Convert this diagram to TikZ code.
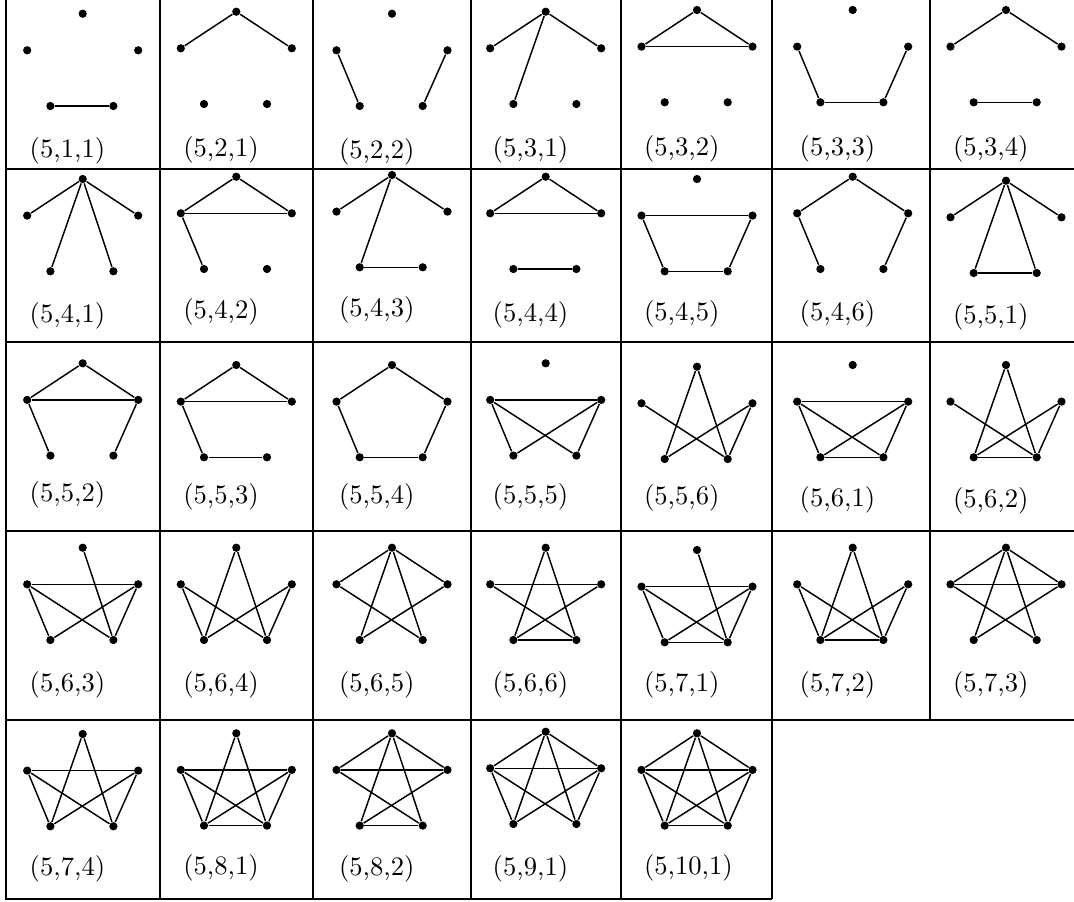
\documentclass[tikz,border=0pt]{standalone}
\usetikzlibrary{calc}
\tikzset{
  dot/.style={circle,fill=black,inner sep=0pt,minimum size=3.1pt},
  edge/.style={line width=0.55pt},
  rule/.style={line width=0.6pt},
  lab/.style={anchor=west,inner sep=0pt},
}
\newcommand{\gcell}[6]{%
  \node[dot] (#1T) at (#2,#3) {};
  \node[dot] (#1L) at ({#2-55.5},{#3+36.6}) {};
  \node[dot] (#1R) at ({#2+55.5},{#3+36.6}) {};
  \node[dot] (#1A) at ({#2-32.3},{#3+92.3}) {};
  \node[dot] (#1B) at ({#2+30.7},{#3+92.3}) {};
  \node[lab] (#1N) at ({#2-53.5},#4) {#5};
  \foreach \u/\v in {#6} {\draw[edge] (#1\u) -- (#1\v);}
}
\begin{document}
\begin{tikzpicture}[x=0.3757pt,y=-0.3757pt]
\useasboundingbox (0,0) rectangle (1074,902);
% table rules
\draw[rule] (6,0) -- (6,899) -- (772,899);
\foreach \xx in {160,313,471,621,772} \draw[rule] (\xx,0) -- (\xx,899);
\draw[rule] (930,0) -- (930,720);
\foreach \yy in {169,342,531,720} \draw[rule] (6,\yy) -- (1074,\yy);
% row 1
\gcell{a}{82.7}{13.7}{151}{(5,1,1)}{A/B}
\gcell{b}{236.3}{11.7}{149.5}{(5,2,1)}{T/L,T/R}
\gcell{c}{392}{13.7}{151.7}{(5,2,2)}{L/A,R/B}
\gcell{d}{545.7}{11.7}{149.5}{(5,3,1)}{T/L,T/R,T/A}
\gcell{e}{697}{10}{149}{(5,3,2)}{T/L,T/R,L/R}
\gcell{f}{852.7}{10}{149}{(5,3,3)}{L/A,A/B,B/R}
\gcell{g}{1006}{10}{149}{(5,3,4)}{T/L,T/R,A/B}
% row 2
\gcell{h}{82.7}{179}{315.7}{(5,4,1)}{T/L,T/R,T/A,T/B}
\gcell{i}{236.3}{176.7}{312.3}{(5,4,2)}{T/L,T/R,L/R,L/A}
\gcell{j}{392}{175}{310}{(5,4,3)}{T/L,T/R,T/A,A/B}
\gcell{k}{545.7}{176.7}{315}{(5,4,4)}{T/L,T/R,L/R,A/B}
\gcell{l}{697}{179}{314}{(5,4,5)}{L/R,L/A,A/B,B/R}
\gcell{m}{852.7}{176.7}{314}{(5,4,6)}{T/L,T/R,L/A,R/B}
\gcell{n}{1006}{180.7}{317}{(5,5,1)}{T/L,T/R,T/A,T/B,A/B}
% row 3
\gcell{o}{82.7}{363.3}{495}{(5,5,2)}{T/L,T/R,L/R,L/A,R/B}
\gcell{p}{236.3}{365}{496.7}{(5,5,3)}{T/L,T/R,L/R,L/A,A/B}
\gcell{q}{392}{365}{496.7}{(5,5,4)}{T/L,T/R,L/A,A/B,B/R}
\gcell{r}{545.7}{363.3}{497}{(5,5,5)}{L/R,L/A,L/B,R/A,R/B}
\gcell{s}{697}{366.7}{498.3}{(5,5,6)}{T/A,T/B,L/B,R/A,R/B}
\gcell{t}{852.7}{365}{500}{(5,6,1)}{L/R,L/A,L/B,R/A,R/B,A/B}
\gcell{u}{1006}{365}{500.7}{(5,6,2)}{T/A,T/B,L/B,R/A,R/B,A/B}
% row 4
\gcell{v}{82.7}{547.7}{685}{(5,6,3)}{T/B,L/R,L/A,L/B,R/A,R/B}
\gcell{w}{236.3}{547.7}{685}{(5,6,4)}{T/A,T/B,L/A,L/B,R/A,R/B}
\gcell{x}{392}{547.7}{685}{(5,6,5)}{T/L,T/R,T/A,T/B,L/B,R/A}
\gcell{y}{545.7}{547.7}{685}{(5,6,6)}{T/A,T/B,L/R,L/B,R/A,A/B}
\gcell{z}{697}{550}{685}{(5,7,1)}{T/B,L/R,L/A,L/B,R/A,R/B,A/B}
\gcell{za}{852.7}{547.7}{685}{(5,7,2)}{T/A,T/B,L/A,L/B,R/A,R/B,A/B}
\gcell{zb}{1006}{547.7}{685}{(5,7,3)}{T/L,T/R,T/A,T/B,L/R,L/B,R/A}
% row 5
\gcell{zc}{82.7}{734}{869}{(5,7,4)}{T/A,T/B,L/R,L/A,L/B,R/A,R/B}
\gcell{zd}{236.3}{733.3}{867.5}{(5,8,1)}{T/A,T/B,L/R,L/A,L/B,R/A,R/B,A/B}
\gcell{ze}{392}{733.3}{869}{(5,8,2)}{T/L,T/R,T/A,T/B,L/R,L/B,R/A,A/B}
\gcell{zf}{545.7}{731.7}{869}{(5,9,1)}{T/L,T/R,T/A,T/B,L/R,L/A,L/B,R/A,R/B}
\gcell{zg}{697}{733.3}{868}{(5,10,1)}{T/L,T/R,T/A,T/B,L/R,L/A,L/B,R/A,R/B,A/B}
\end{tikzpicture}
\end{document}
